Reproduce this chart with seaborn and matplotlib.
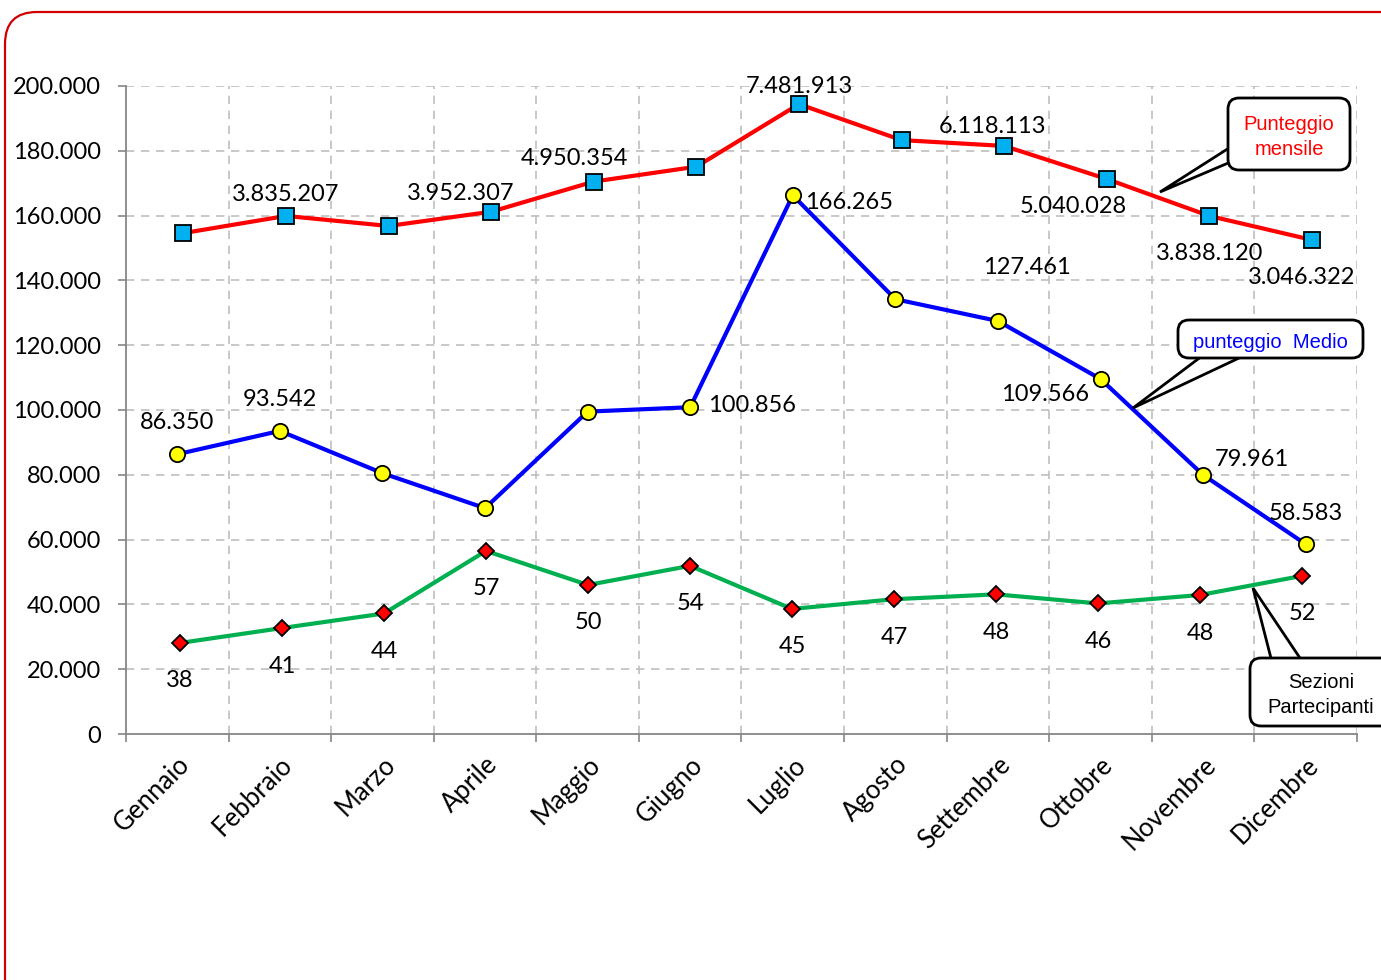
import matplotlib
matplotlib.use("Agg")
import matplotlib.pyplot as plt
import seaborn as sns
import numpy as np
import pandas as pd
from matplotlib.patches import FancyBboxPatch, Polygon
from matplotlib.ticker import FuncFormatter, FixedLocator

# ---------------- data ----------------
months = ["Gennaio", "Febbraio", "Marzo", "Aprile", "Maggio", "Giugno",
          "Luglio", "Agosto", "Settembre", "Ottobre", "Novembre", "Dicembre"]

# Punteggio mensile (plotted scaled values) and its labels
mensile_plot = [154600, 159900, 156800, 161200, 170500, 175100,
                194400, 183300, 181500, 171300, 159900, 152500]
mensile_labels = ["", "3.835.207", "", "3.952.307", "4.950.354", "",
                  "7.481.913", "", "6.118.113", "5.040.028", "3.838.120", "3.046.322"]

# punteggio Medio
medio = [86350, 93542, 80500, 69700, 99500, 100856,
         166265, 134200, 127461, 109566, 79961, 58583]
medio_labels = ["86.350", "93.542", "", "", "", "100.856",
                "166.265", "", "127.461", "109.566", "79.961", "58.583"]

# Sezioni Partecipanti (plotted scaled values) and labels
sezioni_plot = [28100, 32700, 37200, 56500, 46000, 51900,
                38600, 41600, 43100, 40300, 42900, 48800]
sezioni_labels = ["38", "41", "44", "57", "50", "54",
                  "45", "47", "48", "46", "48", "52"]

yticks = [0, 20000, 40000, 60000, 80000, 100000, 120000, 140000,
          160000, 180000, 200000]

# ---------------- layout (pixel offsets of labels) ----------------
mensile_off = [(0, 0), (0, -21), (0, 0), (-31, -18), (-19, -23), (0, 0),
               (0, -18), (0, 0), (-12, -19), (-33, 28), (0, 38), (-10, 38)]
medio_off = [(0, -32), (0, -31), (0, 0), (0, 0), (0, 0), (62, -2),
             (56, 7), (0, 0), (29, -54), (-55, 15), (49, -15), (0, -31)]
sezioni_off = [(0, 38)] * 12

W, H = 1381, 980
sns.set_theme(style="white")
plt.rcParams["font.family"] = ["Lato", "DejaVu Sans"]

fig = plt.figure(figsize=(W / 100, H / 100), dpi=100)
fig.patch.set_facecolor("white")
ax = fig.add_axes([126 / W, (H - 734) / H, (1357 - 126) / W, (734 - 86) / H])

x = np.arange(len(months))
x_mensile = x + 0.06
x_medio = x.astype(float)
x_sezioni = x * 0.9944 + 0.026

df = pd.DataFrame({"mensile": mensile_plot, "medio": medio,
                   "sezioni": sezioni_plot})

sns.lineplot(data=df, x=x_mensile, y="mensile", ax=ax, color="#FF0000", lw=3,
             marker="s", markersize=11, markerfacecolor="#00B0F0",
             markeredgecolor="black", markeredgewidth=1.3, zorder=5)
sns.lineplot(data=df, x=x_medio, y="medio", ax=ax, color="#0000FF", lw=3,
             marker="o", markersize=11, markerfacecolor="#FFFF00",
             markeredgecolor="black", markeredgewidth=1.3, zorder=5)
sns.lineplot(data=df, x=x_sezioni, y="sezioni", ax=ax, color="#00B050", lw=3,
             marker="D", markersize=8.5, markerfacecolor="#FF0000",
             markeredgecolor="black", markeredgewidth=1.3, zorder=5)

ax.set_xlim(-0.5, 11.5)
ax.set_ylim(0, 200000)
ax.set_xlabel("")
ax.set_ylabel("")

# ticks
ax.set_yticks(yticks)
ax.yaxis.set_major_formatter(FuncFormatter(lambda v, p: f"{int(v):,}".replace(",", ".")))
ax.set_xticks(x)
ax.set_xticklabels(months, rotation=45, ha="right", rotation_mode="anchor")
ax.xaxis.set_minor_locator(FixedLocator(np.arange(-0.5, 12, 1)))
ax.tick_params(axis="x", which="major", length=0, pad=13, labelsize=18.5, colors="black")
ax.tick_params(axis="x", which="minor", length=6, width=1.2, color="#868686",
               direction="out", bottom=True)
ax.tick_params(axis="y", which="major", length=6, width=1.2, color="#868686",
               direction="out", pad=12, labelsize=17, labelcolor="black", left=True)

for lab in ax.get_xticklabels():
    lab.set_color("black")

# grid
ax.grid(False)
for xv in np.arange(0.5, 12, 1):
    ax.axvline(xv, color="#BFBFBF", lw=1.2, ls=(0, (5, 4)), zorder=1)
for yv in yticks[1:]:
    ax.axhline(yv, color="#BFBFBF", lw=1.2, ls=(0, (5, 4)), zorder=1)

for s in ["top", "right"]:
    ax.spines[s].set_visible(False)
for s in ["left", "bottom"]:
    ax.spines[s].set_color("#868686")
    ax.spines[s].set_linewidth(1.3)

# data labels
def put_labels(xs, ys, labels, offs):
    for xi, yi, lab, (dx, dy) in zip(xs, ys, labels, offs):
        if lab:
            ax.annotate(lab, (xi, yi), xytext=(dx * 0.72, -dy * 0.72),
                        textcoords="offset points", ha="center", va="center",
                        fontsize=17, color="black", zorder=6)

put_labels(x_mensile, mensile_plot, mensile_labels, mensile_off)
put_labels(x_medio, medio, medio_labels, medio_off)
put_labels(x_sezioni, sezioni_plot, sezioni_labels, sezioni_off)

# ---------------- callouts (pixel layout) ----------------
T = fig.dpi_scale_trans

def P(px, py):
    return (px / 100, (H - py) / 100)

def callout(x0, y0, x1, y1, tri, text, color, tx=None, fs=14.5):
    pts = [P(*p) for p in tri]
    fig.patches.append(Polygon(pts, closed=True, facecolor="white",
                               edgecolor="black", lw=2, transform=T, zorder=20))
    bx, by = P(x0, y1)
    box = FancyBboxPatch((bx, by), (x1 - x0) / 100, (y1 - y0) / 100,
                         boxstyle="round,pad=0,rounding_size=0.11",
                         facecolor="white", edgecolor="black", lw=2,
                         transform=T, zorder=21)
    fig.patches.append(box)
    cxp = (x0 + x1) / 2 if tx is None else tx
    fig.text(cxp / W, 1 - ((y0 + y1) / 2 + 3) / H, text, ha="center", va="center",
             color=color, fontsize=fs, family=["Liberation Sans", "DejaVu Sans"],
             zorder=22, linespacing=1.35)

callout(1228, 98, 1350, 170, [(1160, 192), (1240, 141), (1240, 158)],
        "Punteggio\nmensile", "#FF0000")
callout(1178, 320, 1363, 358, [(1133, 408), (1210, 350), (1256, 350)],
        "punteggio  Medio", "#0000FF")
callout(1250, 658, 1395, 726, [(1253, 588), (1274, 670), (1308, 670)],
        "Sezioni\nPartecipanti", "black", tx=1321)

# outer red rounded frame
frame = FancyBboxPatch(P(5, 1100), (1500 - 5) / 100, (1100 - 12) / 100,
                       boxstyle="round,pad=0,rounding_size=0.32",
                       facecolor="none", edgecolor="#D00000", lw=1.6,
                       transform=T, zorder=30)
fig.patches.append(frame)

fig.savefig("out.png", dpi=100)
